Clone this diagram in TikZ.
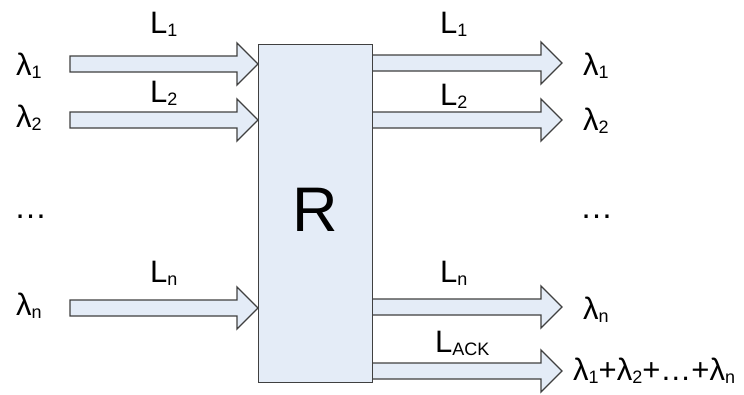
\documentclass[tikz,border=0pt]{standalone}
\usepackage{fontspec}
\setmainfont{Liberation Sans}
\newcommand{\sbs}[1]{\raisebox{-0.12em}{\fontsize{18}{18}\selectfont #1}}
\begin{document}
\begin{tikzpicture}[x=1pt,y=-1pt,
  lbl/.style={font=\fontsize{31}{33}\selectfont, inner sep=0pt, anchor=base west},
  arr/.style={draw=black!75, fill=arrfill, line width=1.3pt, line join=miter}]
\definecolor{arrfill}{HTML}{E4ECF7}
\useasboundingbox (0,0) rectangle (744,394);
\newcommand{\barrow}[3]{%
  \draw[arr] (#1,#3-8) -- (#2-21,#3-8) -- (#2-21,#3-21) -- (#2,#3) -- (#2-21,#3+21) -- (#2-21,#3+8) -- (#1,#3+8) -- cycle;}
% inputs
\barrow{70}{258}{64}
\barrow{70}{258}{120}
\barrow{70}{258}{308}
% outputs
\barrow{372}{562}{63}
\barrow{372}{562}{120}
\barrow{372}{562}{307}
\barrow{372}{562}{371}
% router box
\node[draw=black!75, fill=arrfill, line width=1.3pt, minimum width=114pt, minimum height=338pt, inner sep=0pt, anchor=north west] (R) at (258,44) {};
\node[font=\fontsize{63}{65}\selectfont, inner sep=0pt] (Rt) at (315,209.5) {R};
% left labels
\node[lbl] (la1) at (16,75) {λ\sbs{1}};
\node[lbl] (la2) at (16,127) {λ\sbs{2}};
\node[lbl, font=\fontsize{33}{35}\selectfont] (ldots) at (14,218) {…};
\node[lbl] (lan) at (16,315) {λ\sbs{n}};
\node[lbl] (L1) at (150,33) {L\sbs{1}};
\node[lbl] (L2) at (150,102) {L\sbs{2}};
\node[lbl] (Ln) at (150,282) {L\sbs{n}};
% right labels
\node[lbl] (ra1) at (583,75) {λ\sbs{1}};
\node[lbl] (ra2) at (583,130) {λ\sbs{2}};
\node[lbl, font=\fontsize{33}{35}\selectfont] (rdots) at (580,218) {…};
\node[lbl] (ran) at (583,319) {λ\sbs{n}};
\node[lbl] (rsum) at (573,380) {λ\sbs{1}+λ\sbs{2}+…+λ\sbs{n}};
\node[lbl] (R1) at (440,33) {L\sbs{1}};
\node[lbl] (R2) at (440,105) {L\sbs{2}};
\node[lbl] (Rn) at (440,282) {L\sbs{n}};
\node[lbl] (Rack) at (435,352) {L\sbs{ACK}};
\end{tikzpicture}
\end{document}
